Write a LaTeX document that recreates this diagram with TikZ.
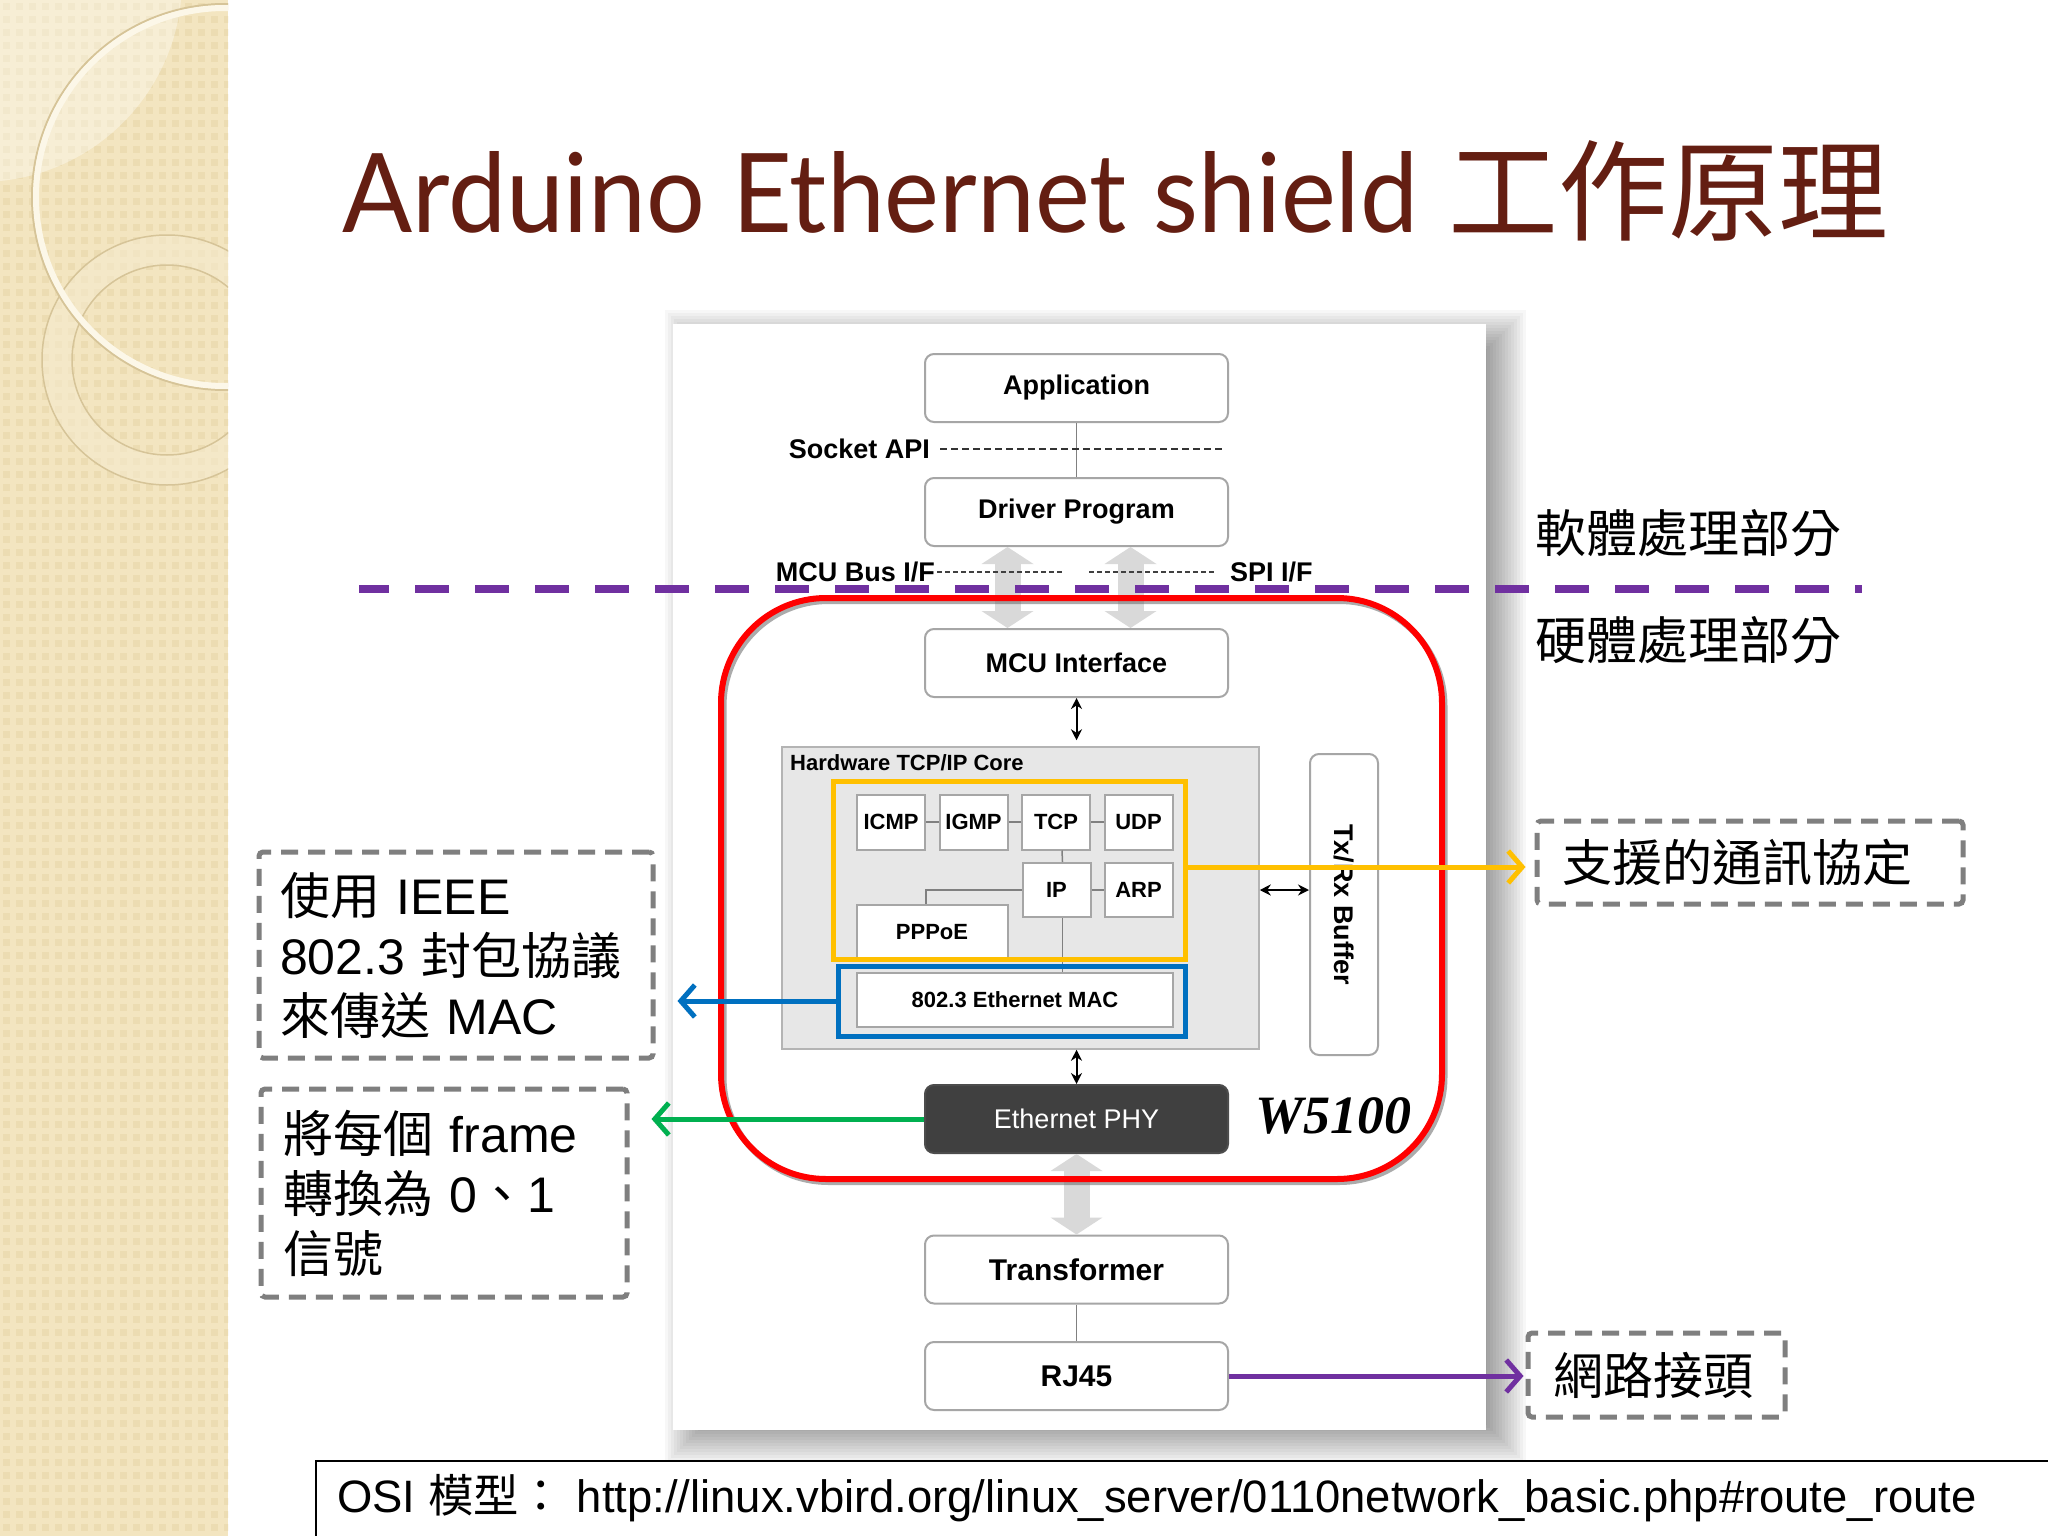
\documentclass[tikz,border=0pt]{standalone}
\usepackage{fontspec}
\setmainfont{Liberation Sans}
\newfontfamily\cjk{Noto Sans CJK TC}
\newfontfamily\titlefont[FakeStretch=0.943]{Lato}
\newfontfamily\wfont{Liberation Serif}
\usetikzlibrary{arrows.meta,calc}
\definecolor{beige}{RGB}{243,229,192}
\definecolor{beigesq}{RGB}{236,220,178}
\definecolor{cream}{RGB}{252,247,232}
\definecolor{ringedge}{RGB}{214,196,152}
\definecolor{ringfill}{RGB}{246,236,208}
\definecolor{boxgray}{RGB}{166,166,166}
\definecolor{linegray}{RGB}{128,128,128}
\definecolor{corefill}{RGB}{231,231,231}
\definecolor{coreborder}{RGB}{180,180,180}
\definecolor{arrgray}{RGB}{217,217,217}
\definecolor{phyfill}{RGB}{64,64,64}
\definecolor{dashgray}{RGB}{127,127,127}
\definecolor{titlebrown}{RGB}{100,30,18}
\definecolor{purp}{RGB}{112,48,160}
\definecolor{yel}{RGB}{255,192,0}
\definecolor{blu}{RGB}{0,112,192}
\definecolor{grn}{RGB}{0,176,80}
\begin{document}
\begin{tikzpicture}[x=1pt,y=-1pt,
 box/.style={draw=boxgray, fill=white, rounded corners=9pt, line width=2pt, minimum width=303pt, minimum height=68pt, inner sep=0pt, font=\fontsize{27}{32}\selectfont\bfseries},
 sbox/.style={draw=boxgray, fill=white, line width=2pt, inner sep=0pt, minimum width=68pt, minimum height=55pt, font=\fontsize{22}{26}\selectfont\bfseries},
 conn/.style={draw=linegray, line width=1.5pt},
 tharrow/.style={line width=2pt, {Stealth[length=11pt,width=11pt]}-{Stealth[length=11pt,width=11pt]}},
 bigarrow/.style={draw=arrgray, line width=26pt, {Triangle[length=17pt,width=52pt,line width=0pt]}-{Triangle[length=17pt,width=52pt,line width=0pt]}},
 callout/.style={draw=dashgray, line width=5pt, dash pattern=on 17pt off 10pt, rounded corners=4pt, font=\fontsize{50}{60}\selectfont, align=left},
 colarrow/.style={line width=5pt, -{Straight Barb[length=14pt,width=32pt]}},
 lbl/.style={font=\fontsize{27}{32}\selectfont\bfseries, inner sep=0pt},
 cjklbl/.style={font=\fontsize{51}{60}\cjk, inner sep=0pt, anchor=west}]
\useasboundingbox (0,0) rectangle (2048,1536);
\fill[white] (0,0) rectangle (2048,1536);
% decorative strip
\begin{scope}
\clip (0,0) rectangle (228,1536);
\fill[beige] (0,0) rectangle (228,1536);
\foreach \i in {0,...,17}{\foreach \j in {0,...,118}{
  \fill[beigesq] (\i*13+3,\j*13+3) rectangle ++(7,7);}}
\fill[white,opacity=0.35] (-20,-20) circle (202);
\fill[ringfill,opacity=0.55,even odd rule] (167,360) circle (125) (167,360) circle (95);
\draw[ringedge,line width=1.5pt] (167,360) circle (125);
\draw[ringedge,line width=1.5pt] (167,360) circle (95);
\draw[ringedge,line width=2pt] (225,197) circle (193);
\draw[cream,line width=6pt] (225,197) circle (189);
\end{scope}
% title
\node[anchor=base west, inner sep=0pt, text=titlebrown, font=\fontsize{110}{120}\selectfont] (title) at (342,232) {{\titlefont Arduino Ethernet shield} {\cjk 工作原理}};
% panel with shadow
\foreach \k in {0,...,16}{
  \pgfmathsetmacro\s{24-3*\k}
  \fill[black,opacity=0.03] (689-\s,334-\s) rectangle (1502+\s,1440+\s);}
\fill[white] (673,324) rectangle (1486,1430);
% nodes of the stack
\node[box] (app) at (1076.5,388) {Application};
\node[box] (drv) at (1076.5,512) {Driver Program};
\node[box] (mcu) at (1076.5,663) {MCU Interface};
\node[box, fill=phyfill, draw=black!70, text=white, font=\fontsize{27}{32}\selectfont] (phy) at (1076.5,1119) {Ethernet PHY};
\node[box, font=\fontsize{30}{36}\selectfont\bfseries] (trf) at (1076.5,1269.5) {Transformer};
\node[box, font=\fontsize{30}{36}\selectfont\bfseries] (rj) at (1076.5,1376) {RJ45};
% big gray arrows
\draw[bigarrow] ([xshift=-69pt]drv.south) -- ([xshift=-69pt]mcu.north);
\draw[bigarrow] ([xshift=54pt]drv.south) -- ([xshift=54pt]mcu.north);
\draw[bigarrow] (phy.south) -- (trf.north);
% connectors in the stack
\draw[conn] (app.south) -- (drv.north);
\draw[conn] (trf.south) -- (rj.north);
\node[lbl, anchor=east] (sock) at (930,449) {Socket API};
\coordinate (sockend) at (1224,449);
\draw[black!80, line width=1.5pt, dash pattern=on 7pt off 4pt] ([xshift=10pt]sock.east) -- (sockend);
\node[lbl, anchor=east] (mcubus) at (935,572) {MCU Bus I/F};
\coordinate (d1e) at (1062,572);
\coordinate (d2s) at (1089,572);
\draw[black!75, line width=1.5pt, dash pattern=on 5pt off 3pt] ([xshift=2pt]mcubus.east) -- (d1e);
\node[lbl, anchor=west] (spi) at (1230,572) {SPI I/F};
\draw[black!75, line width=1.5pt, dash pattern=on 5pt off 3pt] (d2s) -- ([xshift=-16pt]spi.west);
% hardware core
\node[draw=coreborder, fill=corefill, line width=1.5pt, minimum width=477pt, minimum height=302pt, inner sep=0pt] (core) at (1020.5,898) {};
\node[lbl, anchor=west, font=\fontsize{22}{26}\selectfont\bfseries] (corelbl) at (790,763) {Hardware TCP/IP Core};
\node[sbox] (icmp) at (891,822) {ICMP};
\node[sbox] (igmp) at (973.5,822) {IGMP};
\node[sbox] (tcp) at (1056,822) {TCP};
\node[sbox] (udp) at (1138.5,822) {UDP};
\node[sbox, minimum height=54pt] (ip) at (1056.5,890) {IP};
\node[sbox, minimum height=54pt] (arp) at (1138.5,890) {ARP};
\node[sbox, minimum width=151pt, minimum height=55pt] (pppoe) at (932,932) {PPPoE};
\node[sbox, minimum width=316pt, minimum height=54pt] (mac) at (1015,1000) {802.3 Ethernet MAC};
\draw[conn] (icmp.east) -- (igmp.west);
\draw[conn] (igmp.east) -- (tcp.west);
\draw[conn] (tcp.east) -- (udp.west);
\draw[conn] (ip.east) -- (arp.west);
\draw[conn] ([xshift=6pt]tcp.south) -- ([xshift=6pt]ip.north);
\draw[conn] ([xshift=6pt]ip.south) -- ([xshift=6pt]ip.south |- mac.north);
\draw[conn] (ip.west) -| ([xshift=-6pt]pppoe.north);
\node[draw=yel, line width=5pt, minimum width=352pt, minimum height=178pt, inner sep=0pt] (yl) at (1009,870) {};
\node[draw=blu, line width=5pt, minimum width=347pt, minimum height=70pt, inner sep=0pt] (bl) at (1011.5,1001) {};
% Tx/Rx buffer
\node[draw=boxgray, fill=white, rounded corners=9pt, line width=2pt, minimum width=68pt, minimum height=301pt, inner sep=0pt] (txrx) at (1344,904.5) {};
\node[lbl, rotate=-90] (txrxlbl) at (txrx.center) {Tx/Rx Buffer};
% thin arrows
\draw[tharrow, shorten >=6pt] (mcu.south) -- (mcu.south |- core.north);
\draw[tharrow] (core.east |- ip.center) -- (txrx.west |- ip.center);
\draw[tharrow] (phy.north |- core.south) -- (phy.north);
% W5100 chip outline
\node[draw=black!55, opacity=0.6, line width=6pt, rounded corners=105pt, minimum width=721pt, minimum height=581pt, inner sep=0pt] (chipshadow) at (1084,891.5) {};
\node[draw=red, line width=6pt, rounded corners=105pt, minimum width=721pt, minimum height=581pt, inner sep=0pt] (chip) at (1081.5,888.5) {};
\node[anchor=west, inner sep=0pt, font=\fontsize{54}{60}\wfont\bfseries\itshape] (w5100) at (1255,1116) {W5100};
% software/hardware divider
\coordinate (pl) at (359,589);
\coordinate (pr) at (1862,589);
\draw[purp, line width=8pt, dash pattern=on 34pt off 26pt, dash phase=4pt] (pl) -- (pr);
\node[cjklbl] (sw) at (1535,533) {軟體處理部分};
\node[cjklbl] (hw) at (1535,640) {硬體處理部分};
% callouts
\node[callout, text width=352pt, inner xsep=21pt, minimum height=206pt] (macnote) at (456,955) {{\cjk 使用} IEEE\\802.3 {\cjk 封包協議}\\{\cjk 來傳送} MAC};
\node[callout, text width=322pt, inner xsep=22pt, minimum height=208pt] (phynote) at (444,1193) {{\cjk 將每個} frame\\{\cjk 轉換為} 0{\cjk 、}1\\{\cjk 信號}};
\node[callout, text width=376pt, inner xsep=25pt, minimum height=83pt] (protonote) at (1750,862.5) {{\cjk 支援的通訊協定}};
\node[callout, text width=207pt, inner xsep=25pt, minimum height=84pt] (rjnote) at (1656.5,1375) {{\cjk 網路接頭}};
% coloured arrows
\draw[colarrow, draw=yel, shorten >=9pt] (yl.east |- 0,867) -- (protonote.west |- 0,867);
\draw[colarrow, draw=blu, shorten >=22pt] (bl.west) -- (bl.west -| macnote.east);
\draw[colarrow, draw=grn, shorten >=22pt] (phy.west) -- (phy.west -| phynote.east);
\draw[colarrow, draw=purp, shorten >=2pt] (rj.east) -- (rj.east -| rjnote.west);
% bottom reference
\node[draw=black, fill=white, line width=2pt, anchor=north west, minimum width=1780pt, minimum height=110pt, inner sep=0pt] (osibox) at (315,1460) {};
\node[anchor=west, inner sep=0pt, font=\fontsize{45.4}{54}\selectfont] (osi) at (337,1498) {OSI {\cjk 模型：} http://linux.vbird.org/linux\_server/0110network\_basic.php\#route\_route};
\end{tikzpicture}
\end{document}
